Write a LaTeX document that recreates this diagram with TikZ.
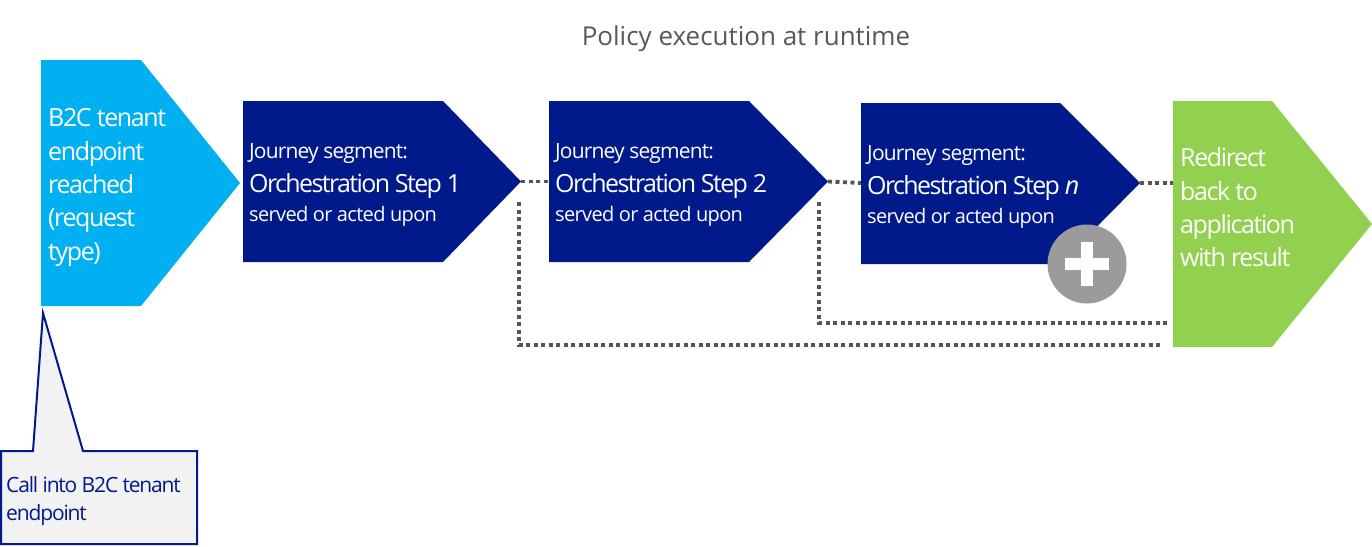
\documentclass[tikz,border=0pt]{standalone}
\usepackage{fontspec}
\setmainfont{Open Sans}
\newfontfamily\fbig[LetterSpace=-5.5]{Open Sans}
\newfontfamily\forch[LetterSpace=-6.5]{Open Sans}
\newfontfamily\fjseg[LetterSpace=-4]{Open Sans}
\newfontfamily\fserv[LetterSpace=-3.3]{Open Sans}
\newfontfamily\fcall[LetterSpace=-5.5]{Open Sans}
\definecolor{cyanbox}{HTML}{00B0F0}
\definecolor{navy}{HTML}{001A8C}
\definecolor{greenbox}{HTML}{92D050}
\definecolor{dotgray}{HTML}{555555}
\definecolor{plusgray}{HTML}{9B9B9B}
\definecolor{titlegray}{HTML}{595959}
\definecolor{callfill}{HTML}{F2F2F2}
\begin{document}
\begin{tikzpicture}[x=1pt,y=-1pt,
  txt/.style={inner sep=0pt, anchor=base west, text=white},
  dotline/.style={draw=dotgray, line width=3.8pt, dash pattern=on 4pt off 3.5pt},
  big/.style={font=\fbig\fontsize{25}{30}\selectfont},
  jseg/.style={font=\fjseg\fontsize{21}{25}\selectfont},
  orch/.style={font=\forch\fontsize{25}{30}\selectfont},
  serv/.style={font=\fserv\fontsize{20}{24}\selectfont},
  calltxt/.style={font=\fcall\fontsize{21}{25}\selectfont, text=navy}]
\useasboundingbox (0,0) rectangle (1372,546);
\fill[white] (0,0) rectangle (1372,546);
% title
\node[inner sep=0pt, anchor=base, text=titlegray, font=\fontsize{26}{30}\selectfont] (title) at (746,45) {Policy execution at runtime};
% cyan start shape
\fill[cyanbox] (41,60) -- (141,60) -- (240,183) -- (141,306) -- (41,306) -- cycle;
\coordinate (cyanTip) at (240,183);
\coordinate (cyanBottom) at (43,313);
\node[txt, big] (c1) at (48,126) {B2C tenant};
\node[txt, big] (c2) at (48,160) {endpoint};
\node[txt, big] (c3) at (48,193) {reached};
\node[txt, big] (c4) at (48,226) {(request};
\node[txt, big] (c5) at (48,260) {type)};
% step 1
\fill[navy] (243,101) -- (443,101) -- (521,181.5) -- (443,262) -- (243,262) -- cycle;
\coordinate (s1tip) at (521,181.5);
\coordinate (s1loop) at (519,202);
\node[txt, jseg] (j1) at (249,158) {Journey segment:};
\node[txt, orch] (o1) at (249,192) {Orchestration Step 1};
\node[txt, serv] (v1) at (249,221) {served or acted upon};
% step 2
\fill[navy] (549,101) -- (749,101) -- (828,181.5) -- (749,262) -- (549,262) -- cycle;
\coordinate (s2in) at (549,181.5);
\coordinate (s2tip) at (828,181.5);
\coordinate (s2loop) at (819,202);
\node[txt, jseg] (j2) at (555,158) {Journey segment:};
\node[txt, orch] (o2) at (555,192) {Orchestration Step 2};
\node[txt, serv] (v2) at (555,221) {served or acted upon};
% step n
\fill[navy] (861,103) -- (1060,103) -- (1140,183) -- (1060,264) -- (861,264) -- cycle;
\coordinate (snin) at (861,183);
\coordinate (sntip) at (1140,183);
\node[txt, jseg] (j3) at (867,160) {Journey segment:};
\node[txt, orch] (o3) at (867,194) {Orchestration Step \textit{n}};
\node[txt, serv] (v3) at (867,223) {served or acted upon};
% plus
\node[circle, fill=plusgray, minimum size=79pt, inner sep=0pt] (plus) at (1087,264) {};
\fill[white] ([xshift=-22pt,yshift=-6pt]plus.center) rectangle ([xshift=22pt,yshift=6pt]plus.center);
\fill[white] ([xshift=-6pt,yshift=-22pt]plus.center) rectangle ([xshift=6pt,yshift=22pt]plus.center);
% green end shape
\fill[greenbox] (1173,101) -- (1272,101) -- (1372,224) -- (1272,347) -- (1173,347) -- cycle;
\coordinate (gin) at (1173,183);
\coordinate (gloop1) at (1160,345);
\coordinate (gloop2) at (1168,323);
\node[txt, big] (g1) at (1180,166) {Redirect};
\node[txt, big] (g2) at (1180,200) {back to};
\node[txt, big] (g3) at (1180,233) {application};
\node[txt, big] (g4) at (1180,266) {with result};
% dotted connectors
\draw[dotline] (s1tip) -- (s2in);
\draw[dotline] (s2tip) -- (snin);
\draw[dotline] (sntip) -- (gin);
\draw[dotline] (s1loop) |- (gloop1);
\draw[dotline] (s2loop) |- (gloop2);
% callout
\draw[navy, line width=2pt, fill=callfill, line join=miter] (1,451) -- (33,451) -- (cyanBottom) -- (83,451) -- (197,451) -- (197,544) -- (1,544) -- cycle;
\node[txt, calltxt] (k1) at (6,492) {Call into B2C tenant};
\node[txt, calltxt] (k2) at (6,520) {endpoint};
\end{tikzpicture}
\end{document}
